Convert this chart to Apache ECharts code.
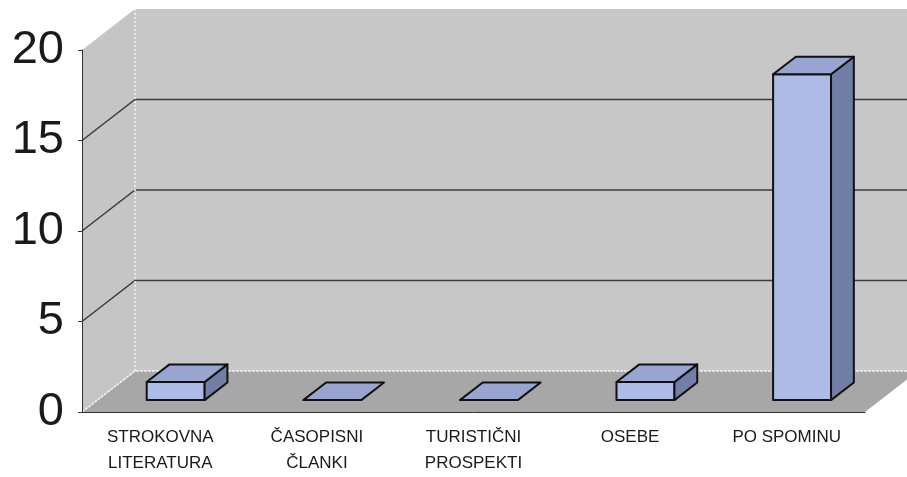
<!DOCTYPE html>
<html>
<head>
<meta charset="utf-8">
<script src="https://cdn.jsdelivr.net/npm/echarts@6/dist/echarts.min.js"></script>
<style>
  html, body { margin: 0; padding: 0; background: #fff; }
  #chart { width: 907px; height: 477px; }
</style>
</head>
<body>
<div id="chart"></div>
<script>
// podatki
const categories = ['STROKOVNA\nLITERATURA', 'ČASOPISNI\nČLANKI', 'TURISTIČNI\nPROSPEKTI', 'OSEBE', 'PO SPOMINU'];
const counts = [1, 0, 0, 1, 18];
const gridValues = [5, 10, 15];

// globina "3D" ozadja (px)
const DEPTH = [53, -41];
const BAR_FRONT = 0.29;
const BAR_BACK = 0.72;
const BAR_WIDTH = 0.37;

const chart = echarts.init(document.getElementById('chart'));

const shift = (p, k) => [p[0] + DEPTH[0] * k, p[1] + DEPTH[1] * k];

// stene, tla in mreža
function renderBackdrop(params, api) {
  const n = categories.length;
  const band = api.size([1, 0])[0];
  const x0 = api.coord([0, 0])[0] - band / 2;
  const x1 = api.coord([n - 1, 0])[0] + band / 2;
  const y0 = api.coord([0, 0])[1];
  const yMax = api.coord([0, 20])[1];
  const A = [x0, y0], B = [x1, y0], T = [x0, yMax];
  const children = [];
  // stranska stena
  children.push({ type: 'polygon', shape: { points: [A, T, shift(T, 1), shift(A, 1)] },
    style: { fill: '#c5c5c5' } });
  // zadnja stena
  children.push({ type: 'polygon', shape: { points: [shift(A, 1), shift(T, 1), shift([x1, yMax], 1), shift(B, 1)] },
    style: { fill: '#c7c7c7' } });
  // tla
  children.push({ type: 'polygon', shape: { points: [A, B, shift(B, 1), shift(A, 1)] },
    style: { fill: '#a7a7a7' } });
  // mrežne črte
  gridValues.forEach(v => {
    const y = api.coord([0, v])[1];
    children.push({ type: 'polyline', shape: { points: [[x0, y], shift([x0, y], 1), shift([x1, y], 1)] },
      style: { stroke: '#3c3c3c', lineWidth: 1.5, fill: null } });
  });
  // bele robne črte
  children.push({ type: 'polyline', shape: { points: [A, shift(A, 1), shift(B, 1)] },
    style: { stroke: '#f4f4f4', lineWidth: 1.5, lineDash: [3, 1], fill: null } });
  children.push({ type: 'line', shape: { x1: shift(A, 1)[0], y1: shift(A, 1)[1], x2: shift(T, 1)[0], y2: shift(T, 1)[1] },
    style: { stroke: '#f4f4f4', lineWidth: 1.5, lineDash: [2, 2] } });
  return { type: 'group', children };
}

// stolpci
function renderBar(params, api) {
  const c = api.value(0);
  const v = api.value(1);
  const band = api.size([1, 0])[0];
  const w = band * BAR_WIDTH;
  const base = api.coord([c, 0]);
  const top = api.coord([c, v]);
  const fl = shift([base[0] - w / 2, base[1]], BAR_FRONT);
  const fr = shift([base[0] + w / 2, base[1]], BAR_FRONT);
  const tl = shift([base[0] - w / 2, top[1]], BAR_FRONT);
  const tr = shift([base[0] + w / 2, top[1]], BAR_FRONT);
  const k = BAR_BACK - BAR_FRONT;
  const bTl = [tl[0] + DEPTH[0] * k, tl[1] + DEPTH[1] * k];
  const bTr = [tr[0] + DEPTH[0] * k, tr[1] + DEPTH[1] * k];
  const bFr = [fr[0] + DEPTH[0] * k, fr[1] + DEPTH[1] * k];
  const edge = { stroke: '#111', lineWidth: 2, lineJoin: 'round' };
  const children = [];
  if (v > 0) {
    children.push({ type: 'polygon', shape: { points: [fl, fr, tr, tl] },
      style: Object.assign({ fill: '#aebbe6' }, edge) });
    children.push({ type: 'polygon', shape: { points: [fr, bFr, bTr, tr] },
      style: Object.assign({ fill: '#737ea6' }, edge) });
  }
  children.push({ type: 'polygon', shape: { points: [tl, tr, bTr, bTl] },
    style: Object.assign({ fill: '#99a4d0' }, edge) });
  return { type: 'group', children };
}

const option = {
  backgroundColor: '#ffffff',
  animation: false,
  grid: { left: 82, right: 42, top: 50, bottom: 65, outerBoundsMode: 'none' },
  xAxis: {
    type: 'category',
    data: categories,
    z: 10,
    axisLine: { lineStyle: { color: '#333', width: 1 } },
    axisTick: { length: 5, lineStyle: { color: '#333' } },
    axisLabel: {
      interval: 0,
      margin: 12,
      fontFamily: 'Liberation Sans Narrow, Arial Narrow, Liberation Sans, Arial, sans-serif',
      fontSize: 17,
      lineHeight: 26,
      color: '#1a1a1a'
    }
  },
  yAxis: {
    type: 'value',
    min: 0,
    max: 20,
    interval: 5,
    z: 10,
    splitLine: { show: false },
    axisLine: { show: true, lineStyle: { color: '#333', width: 1 } },
    axisTick: { show: true, length: 4, lineStyle: { color: '#333' } },
    axisLabel: {
      margin: 18,
      fontFamily: 'Liberation Sans, Arial, sans-serif',
      fontSize: 47,
      color: '#1a1a1a',
      padding: [0, 0, 6, 0]
    }
  },
  series: [
    {
      type: 'custom',
      z: 0,
      silent: true,
      renderItem: renderBackdrop,
      data: [[0, 0]]
    },
    {
      type: 'custom',
      z: 5,
      renderItem: renderBar,
      encode: { x: 0, y: 1 },
      data: counts.map((v, i) => [i, v])
    }
  ]
};

chart.setOption(option);
</script>
</body>
</html>
